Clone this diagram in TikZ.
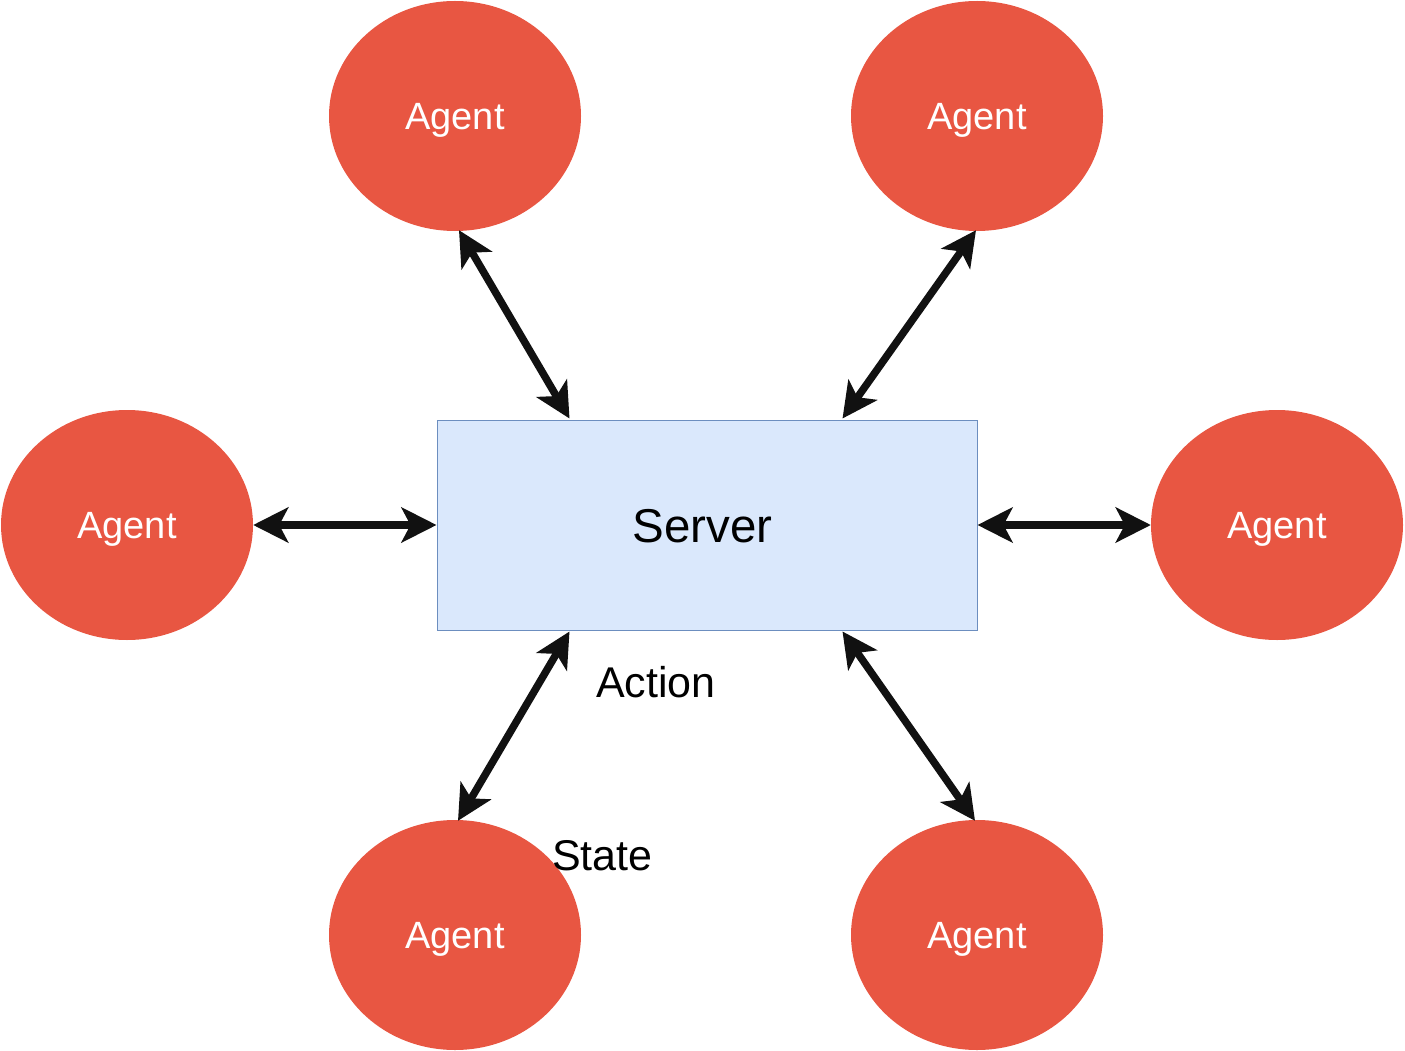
\documentclass[tikz,border=0pt]{standalone}
\usepackage{fontspec}
\setmainfont{Liberation Sans}
\usetikzlibrary{arrows.meta,calc,shapes.geometric}
\definecolor{agentred}{HTML}{E85642}
\definecolor{srvfill}{HTML}{DAE8FC}
\definecolor{srvline}{HTML}{6C8EBF}
\definecolor{arr}{HTML}{111111}
\tikzset{
  agent/.style={ellipse, fill=agentred, draw=none, minimum width=252pt, minimum height=230pt, inner sep=0pt, text height=27.2pt, text depth=0pt, text=white, font=\fontsize{38}{44}\selectfont},
  server/.style={rectangle, fill=srvfill, draw=srvline, line width=1pt, minimum width=540pt, minimum height=210pt, inner sep=0pt, text height=34pt, text depth=0pt, font=\fontsize{47.5}{54}\selectfont},
  link/.style={draw=arr, line width=7.5pt, {Stealth[length=35pt,width=35pt,inset=9pt]}-{Stealth[length=35pt,width=35pt,inset=9pt]}},
  lbl/.style={inner sep=0pt, anchor=base west, font=\fontsize{43}{50}\selectfont}
}
\begin{document}
\begin{tikzpicture}[x=1pt,y=-1pt]
\useasboundingbox (0,0) rectangle (1405,1051);
\node[server] (s) at (707,525) {\hspace*{-9pt}Server};
\node[agent] (a1) at (455,116) {Agent};
\node[agent] (a2) at (977,116) {Agent};
\node[agent] (a3) at (127,525) {Agent};
\node[agent] (a4) at (1277,525) {Agent};
\node[agent] (a5) at (455,935) {Agent};
\node[agent] (a6) at (977,935) {Agent};
\coordinate (s1) at ($(s.north west)+(133,-1)$);
\coordinate (s2) at ($(s.north west)+(406,-1)$);
\coordinate (s5) at ($(s.south west)+(133,1)$);
\coordinate (s6) at ($(s.south west)+(406,1)$);
\coordinate (e1) at ($(a1.south)+(4,-1)$);
\coordinate (e2) at ($(a2.south)+(-1,-1)$);
\coordinate (e5) at ($(a5.north)+(3,1)$);
\coordinate (e6) at ($(a6.north)+(-2,1)$);
\draw[link] (e1) -- (s1);
\draw[link] (e2) -- (s2);
\draw[link] (a3.east) -- (s.west);
\draw[link] (s.east) -- (a4.west);
\draw[link] (s5) -- (e5);
\draw[link] (s6) -- (e6);
\node[lbl] (act) at (596,697) {Action};
\node[lbl] (st) at (552,870) {State};
\end{tikzpicture}
\end{document}
